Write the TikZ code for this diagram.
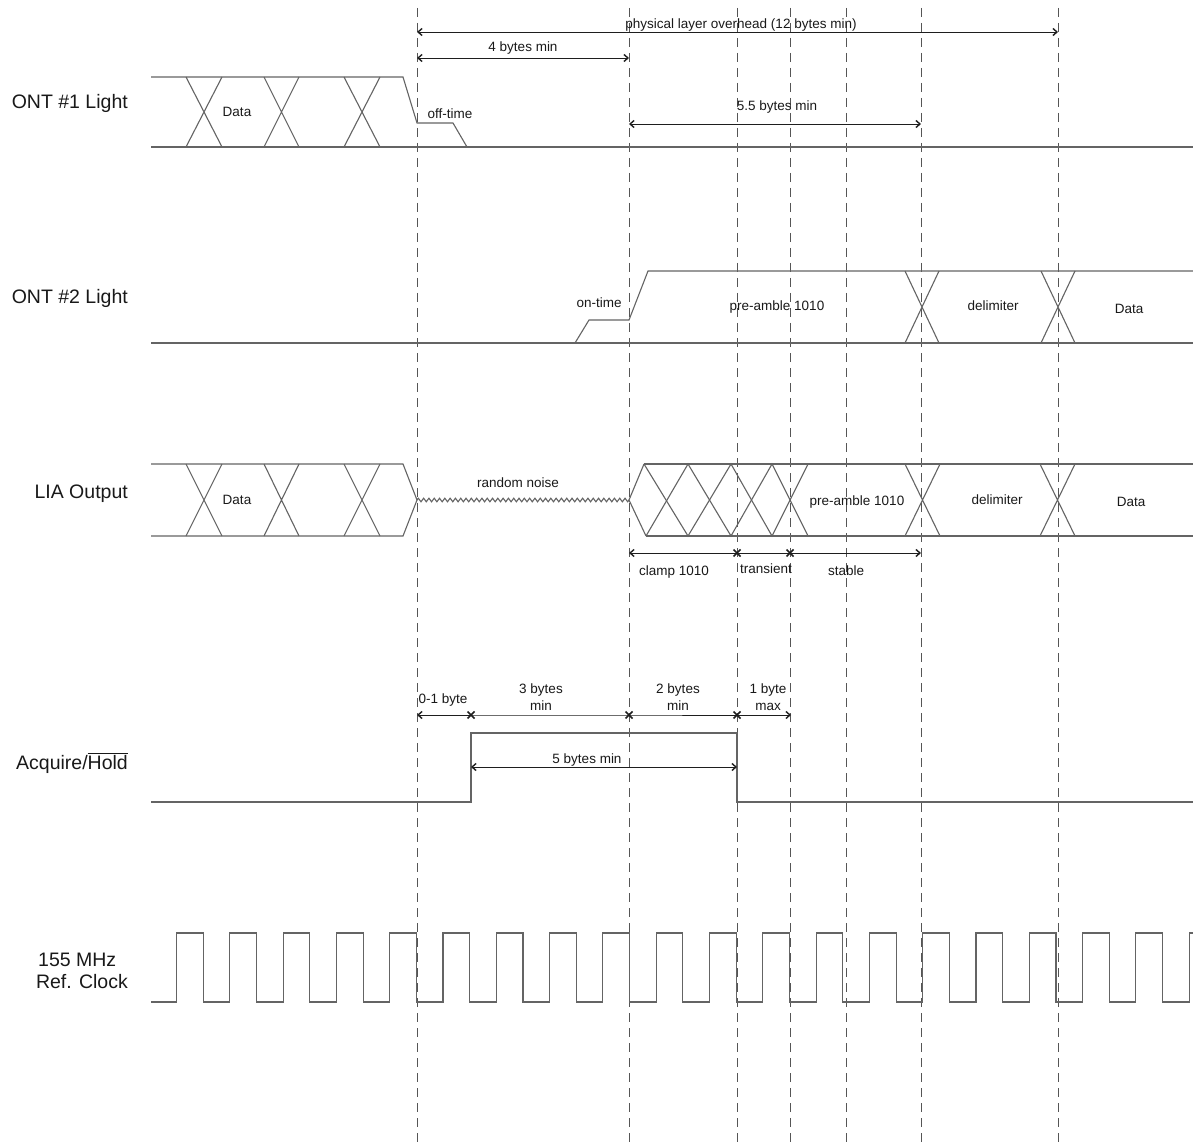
\documentclass[tikz,border=0pt]{standalone}
\usepackage{fontspec}
\setmainfont{Liberation Sans}
\usetikzlibrary{arrows.meta,decorations.pathmorphing}
\definecolor{sigc}{RGB}{100,100,100}
\definecolor{dshc}{RGB}{85,85,85}
\definecolor{txtc}{RGB}{25,25,25}
\definecolor{dimc}{RGB}{30,30,30}
\tikzset{
  sig/.style={draw=sigc, line width=1.1pt, line join=miter},
  gridline/.style={draw=dshc, line width=0.9pt, dash pattern=on 9pt off 6pt},
  dimline/.style={draw=dimc, line width=0.8pt},
  barb/.tip={Straight Barb[length=4pt,width=7pt,line width=1.4pt]},
  bothtip/.style={dimline, barb-barb},
  lefttip/.style={dimline, barb-},
  righttip/.style={dimline, -barb},
  sm/.style={font=\fontsize{13.5}{15}\selectfont, text=txtc, inner sep=0pt, anchor=base},
  rowlbl/.style={font=\fontsize{19.5}{24}\selectfont, text=txtc, inner sep=0pt, anchor=base east},
  xm/.pic={\draw[draw=dimc, line width=1.6pt] (-3.5pt,-3.5pt) -- (3.5pt,3.5pt) (-3.5pt,3.5pt) -- (3.5pt,-3.5pt);}
}
\begin{document}
\begin{tikzpicture}[x=1pt,y=-1pt]
\useasboundingbox (0,0) rectangle (1193,1147);
\fill[white] (0,0) rectangle (1193,1147);

% ---- vertical dashed reference lines
\foreach \n/\xx in {d1/417,d2/629,d3/737,d4/790,d5/846,d6/921,d7/1058}{
  \coordinate (\n t) at (\xx,8);
  \coordinate (\n b) at (\xx,1147);
  \draw[gridline] (\n t) -- (\n b);
}

% ---- row labels
\node[rowlbl] (l1) at (128,109) {ONT \#1 Light};
\node[rowlbl] (l2) at (128,304) {ONT \#2 Light};
\node[rowlbl] (l3) at (128,498) {LIA Output};
\node[rowlbl] (l4) at (128,769) {Acquire/$\overline{\mbox{Hold}}$};
\node[rowlbl, anchor=base west] (l5a) at (38,966) {155 MHz};
\node[rowlbl] (l5b) at (128,988) {Ref. Clock};

% ---- top dimension arrows
\coordinate (pa) at (417,32); \coordinate (pb) at (1058,32);
\draw[bothtip] (pa) -- (pb);
\node[sm] (tphys) at (741,29) {physical layer overhead (12 bytes min)};
\coordinate (fa) at (417,58); \coordinate (fb) at (629,58);
\draw[bothtip] (fa) -- (fb);
\node[sm] (tfour) at (523,52) {4 bytes min};
\coordinate (ga) at (629,124); \coordinate (gb) at (921,124);
\draw[bothtip] (ga) -- (gb);
\node[sm] (tfive) at (777,111) {5.5 bytes min};

% ---- ONT #1 Light
\draw[sig] (151,77) -- (403,77) -- (417,123) -- (453,123) -- (467,147);
\draw[sig] (151,147) -- (1193,147);
\foreach \a/\b in {186/222,264/299,344/380}{
  \draw[sig] (\a,77) -- (\b,147) (\a,147) -- (\b,77);
}
\node[sm] (data1) at (237,117) {Data};
\node[sm] (off) at (450,119) {off-time};

% ---- ONT #2 Light
\draw[sig] (151,343) -- (1193,343);
\draw[sig] (575,343) -- (589,320) -- (629,320) -- (648,271) -- (1193,271);
\foreach \a/\b in {905/939,1041/1075}{
  \draw[sig] (\a,271) -- (\b,343) (\a,343) -- (\b,271);
}
\node[sm] (on) at (599,308) {on-time};
\node[sm] (pre2) at (777,311) {pre-amble 1010};
\node[sm] (del2) at (993,311) {delimiter};
\node[sm] (data2) at (1129,313) {Data};

% ---- LIA Output
\draw[sig] (151,464) -- (403,464) -- (417,500) -- (403,536) -- (151,536);
\foreach \a/\b in {186/222,264/299,344/380}{
  \draw[sig] (\a,464) -- (\b,536) (\a,536) -- (\b,464);
}
\draw[sig, decorate, decoration={zigzag, segment length=5.3pt, amplitude=1.8pt}] (417,500) -- (629,500);
\draw[sig] (644,464) -- (629,500) -- (646,536);
\draw[sig] (644,464) -- (1193,464);
\draw[sig] (646,536) -- (1193,536);
\draw[sig] (644,464) -- (688,536) -- (731,464) -- (772,536) -- (808,464);
\draw[sig] (646,536) -- (688,464) -- (731,536) -- (772,464) -- (808,536);
\foreach \a/\b in {905/940,1040/1075}{
  \draw[sig] (\a,464) -- (\b,536) (\a,536) -- (\b,464);
}
\node[sm] (data3) at (237,504) {Data};
\node[sm] (noise) at (518,487) {random noise};
\node[sm] (pre3) at (857,505) {pre-amble 1010};
\node[sm] (del3) at (997,504) {delimiter};
\node[sm] (data3b) at (1131,506) {Data};

% LIA dimension arrows
\coordinate (ca) at (629,553); \coordinate (cb) at (737,553);
\coordinate (cc) at (790,553); \coordinate (cd) at (921,553);
\draw[lefttip] (ca) -- (cb);
\draw[dimline] (cb) -- (cc);
\draw[righttip] (cc) -- (cd);
\pic at (cb) {xm};
\pic at (cc) {xm};
\node[sm] (clamp) at (674,575) {clamp 1010};
\node[sm] (trans) at (766,573) {transient};
\node[sm] (stab) at (846,575) {stable};

% ---- Acquire/Hold
\draw[sig] (151,802) -- (471,802) -- (471,733) -- (737,733) -- (737,802) -- (1193,802);
\coordinate (aa) at (417,715); \coordinate (ab) at (471,715);
\coordinate (ac) at (629,715); \coordinate (ad) at (737,715);
\coordinate (ae) at (791,715);
\draw[lefttip] (aa) -- (ab);
\draw[dimline] (ab) -- (ac) -- (ad);
\draw[righttip] (ad) -- (ae);
\pic at (ab) {xm};
\pic at (ac) {xm};
\pic at (ad) {xm};
\node[sm] (b01) at (443,703) {0-1 byte};
\node[sm] (b3a) at (541,693) {3 bytes};
\node[sm] (b3b) at (541,710) {min};
\node[sm] (b2a) at (678,693) {2 bytes};
\node[sm] (b2b) at (678,710) {min};
\node[sm] (b1a) at (768,693) {1 byte};
\node[sm] (b1b) at (768,710) {max};
\coordinate (ha) at (471,767); \coordinate (hb) at (737,767);
\draw[bothtip] (ha) -- (hb);
\node[sm] (b5) at (587,763) {5 bytes min};

% ---- 155 MHz reference clock
\draw[sig] (151,1002)
  \foreach \k in {0,...,18}{
    -- ({176.5+53.3*\k},1002) -- ({176.5+53.3*\k},933)
    -- ({203.15+53.3*\k},933) -- ({203.15+53.3*\k},1002)
  }
  -- (1189.2,1002) -- (1189.2,933) -- (1193,933);
\end{tikzpicture}
\end{document}
